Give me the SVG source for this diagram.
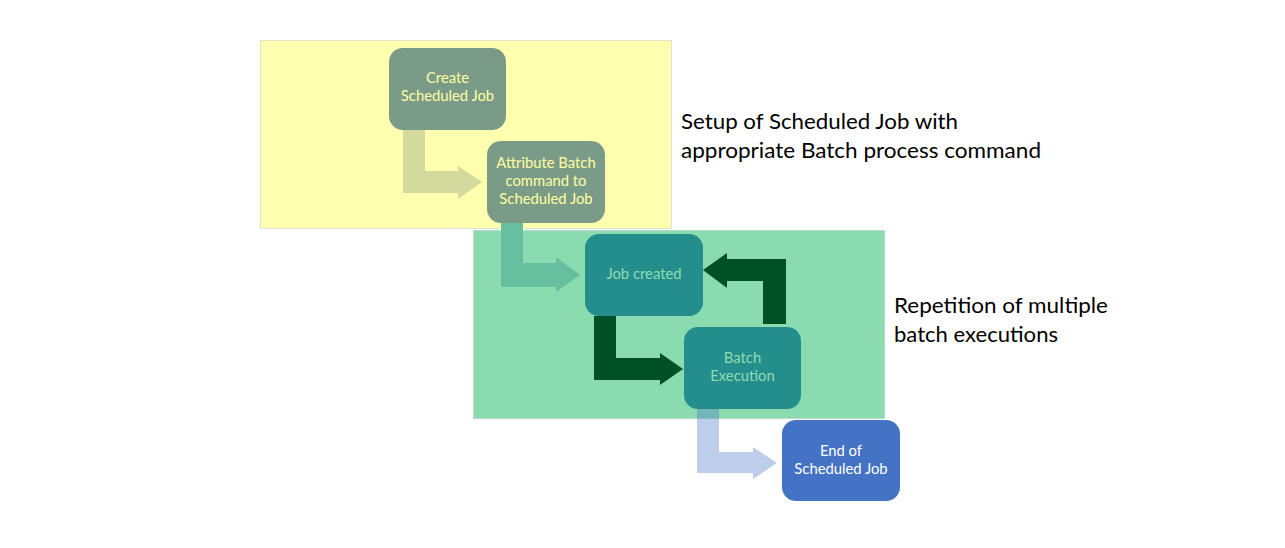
<svg xmlns="http://www.w3.org/2000/svg" width="1285" height="548" viewBox="0 0 1285 548">
<style>
.bg1{fill:#FFFFB0;stroke:#E2E2CC;stroke-width:1}
.bg2{fill:#8ADBAF;stroke:#B5DDC8;stroke-width:1}
.n1{fill:#7B9B89}
.n2{fill:#238E8C}
.n3{fill:#4472C4}
.t{font-family:Lato,"Open Sans","Liberation Sans",sans-serif;font-size:14.8px;text-anchor:middle}
.ty{fill:#FFFFA0}
.tg{fill:#8FDCB0}
.tw{fill:#FFFFFF}
.lbl{font-family:Lato,"Open Sans","Liberation Sans",sans-serif;font-size:21px;fill:#000}
</style>
<rect width="1285" height="548" fill="#FFFFFF"/>
<g id="region-setup">
<rect class="bg1" x="260.5" y="40.5" width="411" height="188"/>
</g>
<g id="region-repeat">
<rect class="bg2" x="473.5" y="230.5" width="411" height="188"/>
</g>
<g id="connectors">
<path d="M403,130 H425 V171 H458 V166 L482,182 L458,199 V193 H403 Z" fill="#D4D99E"/>
<path d="M501,223 H523 V263 H556 V257 L580,275 L556,292 V287 H501 Z" fill="#68BFA0"/>
<path d="M594,316 H616 V358 H660 V353 L683,369 L660,385 V380 H594 Z" fill="#005026"/>
<path d="M786,324 H763 V281 H727 V288 L703,270 L727,253 V259 H786 Z" fill="#005026"/>
<path d="M697,409 H719 V452 H753 V447 L777,463 L753,479 V473 H697 Z" fill="#4472C4" fill-opacity="0.35"/>
</g>
<g id="node-create">
<rect class="n1" x="389" y="48" width="117" height="82" rx="14"/>
<text class="t ty" x="447.5" y="83">Create</text>
<text class="t ty" x="447.5" y="101">Scheduled Job</text>
</g>
<g id="node-attribute">
<rect class="n1" x="487" y="141" width="118" height="82" rx="14"/>
<text class="t ty" x="546" y="168">Attribute Batch</text>
<text class="t ty" x="546" y="186">command to</text>
<text class="t ty" x="546" y="204">Scheduled Job</text>
</g>
<g id="node-job-created">
<rect class="n2" x="585" y="234" width="118" height="82" rx="14"/>
<text class="t tg" x="644" y="279">Job created</text>
</g>
<g id="node-batch-execution">
<rect class="n2" x="684" y="327" width="117" height="82" rx="14"/>
<text class="t tg" x="742.5" y="363">Batch</text>
<text class="t tg" x="742.5" y="381">Execution</text>
</g>
<g id="node-end">
<rect class="n3" x="782" y="420" width="118" height="81" rx="14"/>
<text class="t tw" x="841" y="456">End of</text>
<text class="t tw" x="841" y="474">Scheduled Job</text>
</g>
<g id="labels">
<text class="lbl" x="681" y="129" textLength="277" lengthAdjust="spacingAndGlyphs">Setup of Scheduled Job with</text>
<text class="lbl" x="681" y="158" textLength="360" lengthAdjust="spacingAndGlyphs">appropriate Batch process command</text>
<text class="lbl" x="894" y="313" textLength="214" lengthAdjust="spacingAndGlyphs">Repetition of multiple</text>
<text class="lbl" x="894" y="342" textLength="164" lengthAdjust="spacingAndGlyphs">batch executions</text>
</g>
</svg>
